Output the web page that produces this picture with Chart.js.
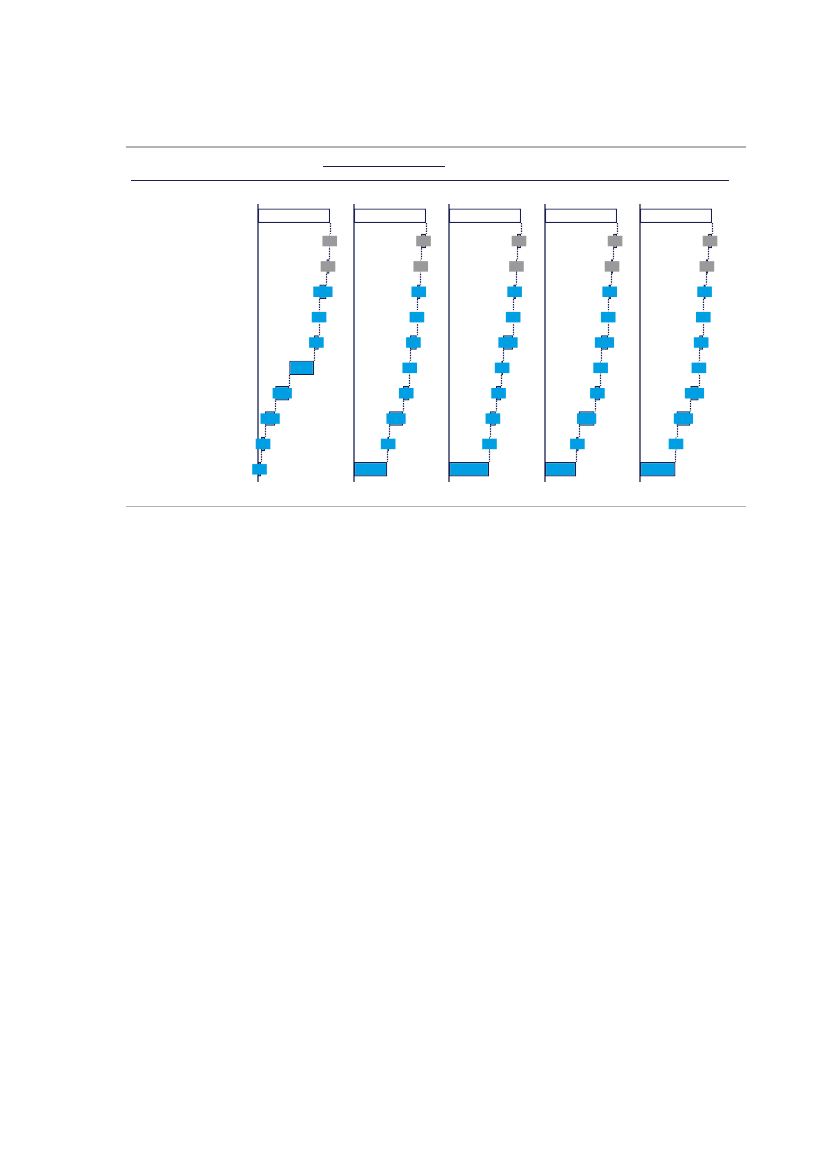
<!DOCTYPE html>
<html><head><meta charset="utf-8">
<script src="https://cdn.jsdelivr.net/npm/chart.js@4"></script>
<style>
body{margin:0;background:#fff;width:827px;height:1169px;position:relative;overflow:hidden;font-family:"Liberation Sans",Arial,sans-serif}
.ln{position:absolute}
canvas{position:absolute}
</style></head><body>
<div class="ln" style="left:126px;top:146px;width:620px;height:1.5px;background:#b3b3b3"></div>
<div class="ln" style="left:323px;top:165.5px;width:122px;height:1.4px;background:#1b1f4f"></div>
<div class="ln" style="left:131px;top:179.5px;width:598px;height:1.4px;background:#1b1f4f"></div>
<div class="ln" style="left:126px;top:505.5px;width:620px;height:1.5px;background:#b3b3b3"></div>
<script>
// ---- data ----
const categories = ['Total','Step 1','Step 2','Step 3','Step 4','Step 5','Step 6','Step 7','Step 8','Step 9','Step 10'];
const totalValue = 100;
const panel1 = [0.7, 4.2, 9.9, 0.8, 6.6, 34.4, 19.5, 14.1, 5.6, 4.2];
const panel2 = [6.9, 0.8, 4.7, 0.4, 9.4, 0.8, 8.9, 19.4, 2.5, 46.2];
const panel3 = [5.6, 1.4, 3.7, 0.4, 13.9, 2.4, 7.5, 8.3, 1.1, 55.7];
const panel4 = [5.4, 3.0, 3.5, 0.6, 9.8, 0.9, 8.0, 22.0, 3.6, 43.2];
const panel5 = [5.5, 3.2, 3.2, 0.4, 5.5, 0.8, 11.5, 19.2, 1.4, 49.3];
const panels = [panel1, panel2, panel3, panel4, panel5];
const grayRows = [1, 2];

// ---- style ----
const NAVY = '#1b1f4f', BLUE = '#009fe3', GRAY = '#9a9a9a';

function buildRanges(vals){
  const out = [[0, totalValue]];
  let cum = totalValue;
  vals.forEach(v => { out.push([cum - v, cum]); cum -= v; });
  return out;
}

const waterfallPlugin = {
  id: 'waterfallDecor',
  afterDatasetsDraw(chart){
    const ctx = chart.ctx, xs = chart.scales.x, ys = chart.scales.y;
    const meta = chart.getDatasetMeta(0);
    const ranges = chart.data.datasets[0].data;
    const vals = chart.data.datasets[0].values;
    const ca = chart.chartArea;
    ctx.save();
    // axis line
    const x0 = xs.getPixelForValue(0);
    ctx.strokeStyle = NAVY; ctx.lineWidth = 1.3; ctx.setLineDash([]);
    ctx.beginPath(); ctx.moveTo(x0, ca.top + 1); ctx.lineTo(x0, ca.bottom); ctx.stroke();
    // connectors
    ctx.lineWidth = 1.2; ctx.setLineDash([1.5, 1]);
    for (let i = 0; i < ranges.length - 1; i++){
      const x = Math.round(xs.getPixelForValue(i === 0 ? ranges[i][1] : ranges[i][0])) + 0.5;
      const h1 = meta.data[i].height, h2 = meta.data[i+1].height;
      const y1 = ys.getPixelForValue(i) + h1/2, y2 = ys.getPixelForValue(i+1) - h2/2;
      ctx.beginPath(); ctx.moveTo(x, y1); ctx.lineTo(x, y2); ctx.stroke();
    }
    // label boxes
    ctx.setLineDash([]);
    ctx.font = '8.3px "Liberation Sans", Arial, sans-serif';
    for (let i = 1; i < ranges.length; i++){
      const cx = (xs.getPixelForValue(ranges[i][0]) + xs.getPixelForValue(ranges[i][1])) / 2;
      const cy = ys.getPixelForValue(i);
      const txt = String(Math.round(vals[i-1]));
      const w = ctx.measureText(txt).width + 10, h = 10.5;
      ctx.fillStyle = grayRows.includes(i) ? GRAY : BLUE;
      ctx.fillRect(cx - w/2, cy - h/2, w, h);
    }
    ctx.restore();
  }
};

const AXIS0 = 258.3, STEP = 95.5, SCALEW = 72, PADL = 10, PADR = 22, TOP = 193, AREAH = 279, PADT = 10, PADB = 10;

panels.forEach((vals, p) => {
  const cv = document.createElement('canvas');
  const W = PADL + SCALEW + PADR, H = PADT + AREAH + PADB;
  cv.width = W; cv.height = H;
  cv.style.left = (AXIS0 + p*STEP - PADL) + 'px';
  cv.style.top = TOP + 'px';
  cv.style.width = W + 'px'; cv.style.height = H + 'px';
  document.body.appendChild(cv);
  const ranges = buildRanges(vals);
  new Chart(cv, {
    type: 'bar',
    data: {
      labels: categories,
      datasets: [{
        data: ranges,
        values: vals,
        backgroundColor: categories.map((c, i) => i === 0 ? '#ffffff' : (grayRows.includes(i) ? GRAY : BLUE)),
        borderColor: NAVY,
        borderWidth: 1.2,
        borderSkipped: false,
        categoryPercentage: 1,
        barPercentage: 0.57,
        clip: false
      }]
    },
    options: {
      indexAxis: 'y',
      responsive: false,
      animation: false,
      devicePixelRatio: 1,
      layout: { padding: { left: PADL, right: PADR, top: PADT, bottom: PADB } },
      plugins: { legend: { display: false }, tooltip: { enabled: false } },
      scales: {
        x: { type: 'linear', min: 0, max: totalValue, display: false },
        y: { type: 'category', display: false, offset: true }
      }
    },
    plugins: [waterfallPlugin]
  });
});
</script>
</body></html>
